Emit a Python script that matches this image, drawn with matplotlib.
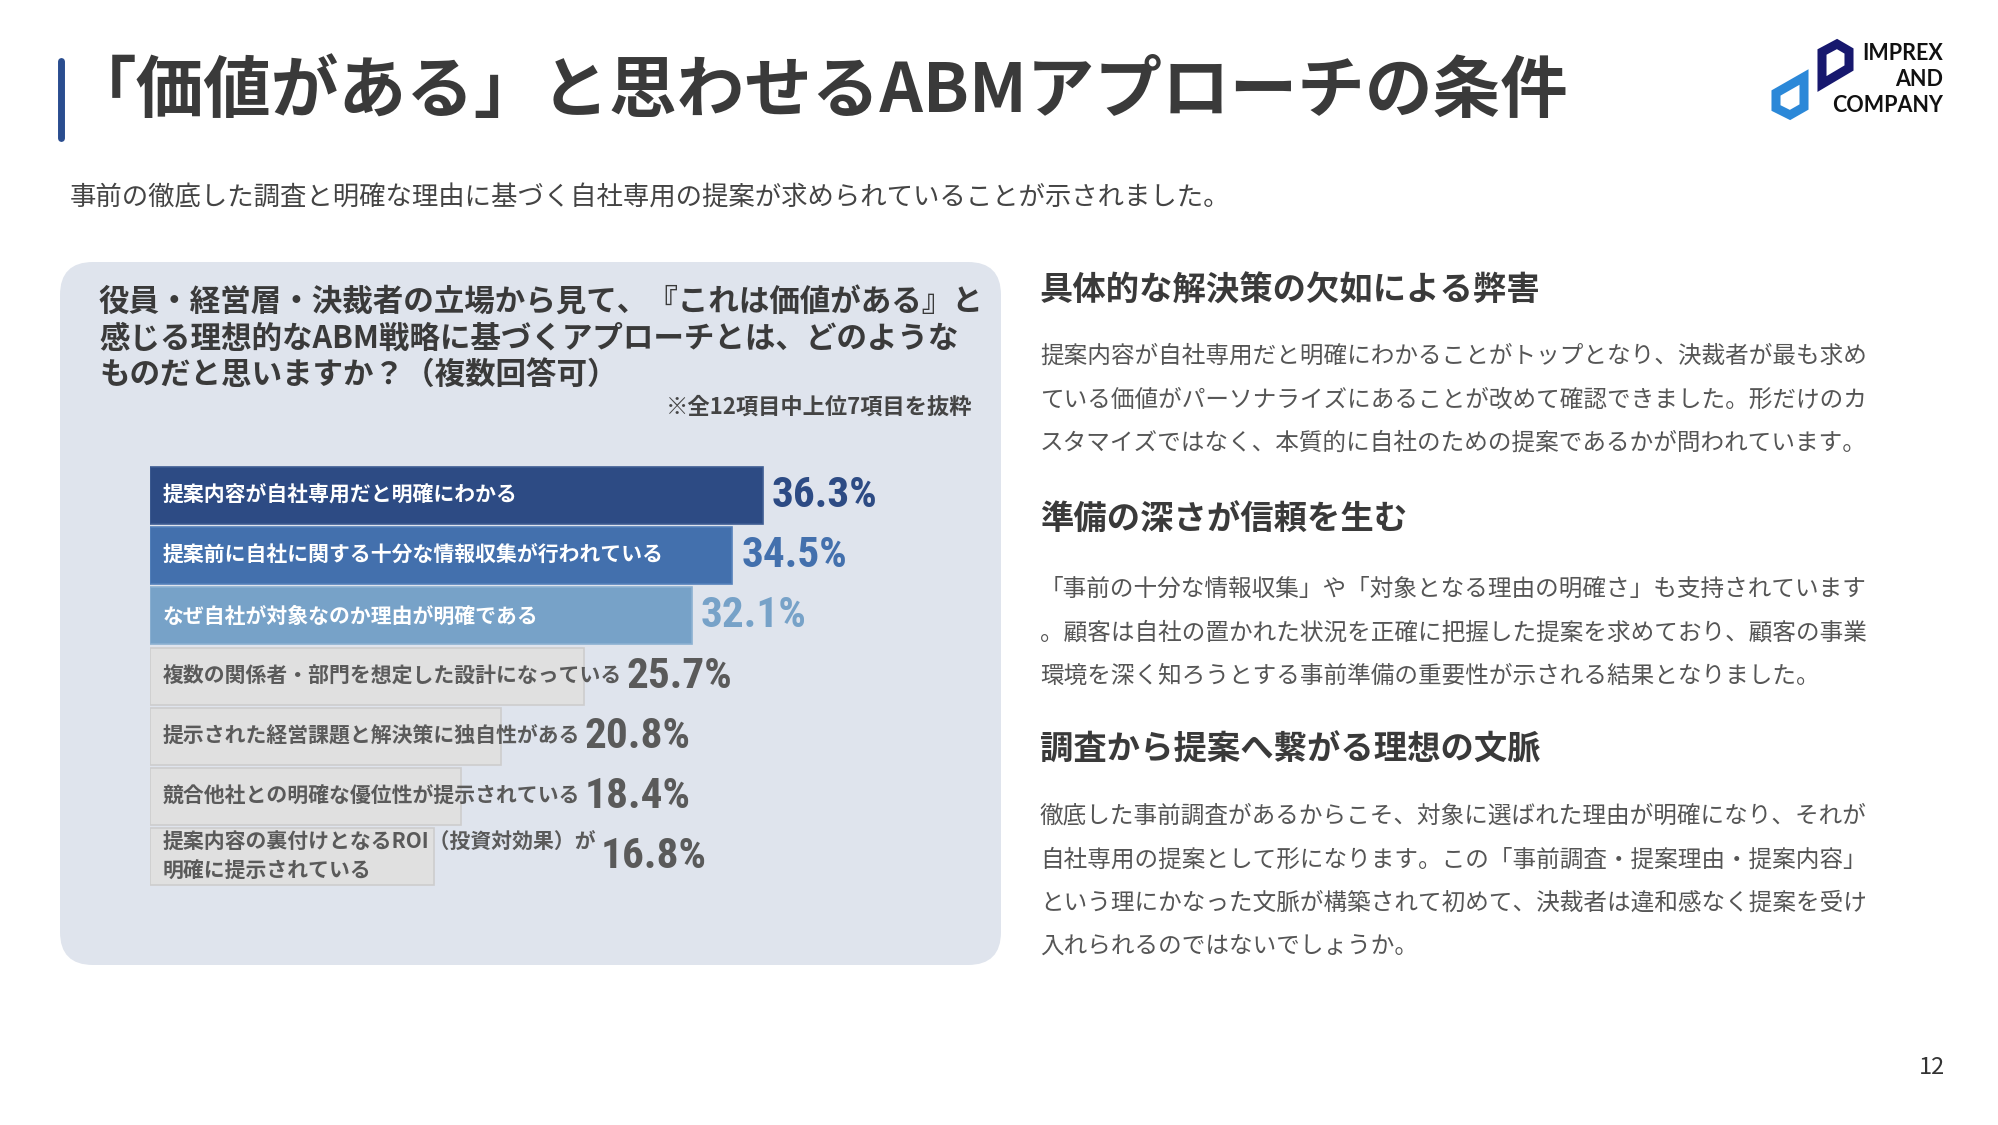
import matplotlib
matplotlib.use("Agg")
import matplotlib.pyplot as plt
from matplotlib import font_manager
from matplotlib.patches import FancyBboxPatch, Polygon

plt.rcParams['font.family'] = ['Noto Sans CJK JP', 'DejaVu Sans']

# --- data ---
title = "「価値がある」と思わせるABMアプローチの条件"
subtitle = "事前の徹底した調査と明確な理由に基づく自社専用の提案が求められていることが示されました。"
question = ["役員・経営層・決裁者の立場から見て、『これは価値がある』と",
            "感じる理想的なABM戦略に基づくアプローチとは、どのような",
            "ものだと思いますか？（複数回答可）"]
note = "※全12項目中上位7項目を抜粋"
labels = ["提案内容が自社専用だと明確にわかる",
          "提案前に自社に関する十分な情報収集が行われている",
          "なぜ自社が対象なのか理由が明確である",
          "複数の関係者・部門を想定した設計になっている",
          "提示された経営課題と解決策に独自性がある",
          "競合他社との明確な優位性が提示されている",
          "提案内容の裏付けとなるROI（投資対効果）が\n明確に提示されている"]
values = [36.3, 34.5, 32.1, 25.7, 20.8, 18.4, 16.8]

headings = ["具体的な解決策の欠如による弊害", "準備の深さが信頼を生む", "調査から提案へ繋がる理想の文脈"]
paragraphs = [
    ["提案内容が自社専用だと明確にわかることがトップとなり、決裁者が最も求め",
     "ている価値がパーソナライズにあることが改めて確認できました。形だけのカ",
     "スタマイズではなく、本質的に自社のための提案であるかが問われています。"],
    ["「事前の十分な情報収集」や「対象となる理由の明確さ」も支持されています",
     "。顧客は自社の置かれた状況を正確に把握した提案を求めており、顧客の事業",
     "環境を深く知ろうとする事前準備の重要性が示される結果となりました。"],
    ["徹底した事前調査があるからこそ、対象に選ばれた理由が明確になり、それが",
     "自社専用の提案として形になります。この「事前調査・提案理由・提案内容」",
     "という理にかなった文脈が構築されて初めて、決裁者は違和感なく提案を受け",
     "入れられるのではないでしょうか。"],
]
page_no = "12"

# --- styles ---
bar_colors = ['#2D4B84', '#4370AD', '#77A2C8', '#E0E0E0', '#E0E0E0', '#E0E0E0', '#E0E0E0']
edge_colors = ['#3E5C92', '#5581BB', '#8CB1D2', '#CDCDCD', '#CDCDCD', '#CDCDCD', '#CDCDCD']
label_colors = ['white', 'white', 'white', '#5A5A5A', '#5A5A5A', '#5A5A5A', '#5A5A5A']
value_colors = ['#2D4B84', '#4370AD', '#77A2C8', '#5A5A5A', '#5A5A5A', '#5A5A5A', '#5A5A5A']
dark = '#3A3A3A'
body = '#555555'

# pick a narrow face for the percentages if one is installed
narrow = None
prefs = ['Roboto Condensed', 'Liberation Sans Narrow', 'Open Sans Condensed', 'Noto Sans', 'DejaVu Sans', 'Roboto']
cands = [f for f in font_manager.fontManager.ttflist
         if f.stretch in ('condensed', 'semi-condensed', 'extra-condensed')
         or 'Narrow' in f.name or 'Condensed' in f.name]
for p in prefs:
    for f in cands:
        if f.name == p:
            narrow = f
            break
    if narrow:
        break
if narrow is None and cands:
    narrow = cands[0]
if narrow is not None:
    num_family, num_stretch = narrow.name, narrow.stretch
else:
    num_family, num_stretch = 'Roboto', 'normal'

W, H = 1999, 1125
fig = plt.figure(figsize=(W / 100, H / 100), dpi=100)
fig.patch.set_facecolor('white')

bg = fig.add_axes([0, 0, 1, 1])
bg.set_xlim(0, W)
bg.set_ylim(H, 0)
bg.axis('off')

# title
bg.plot([61, 61], [61, 138], color='#2A4D8F', lw=5, solid_capstyle='round')
bg.text(69, 92, title, fontsize=48.7, fontweight='bold', color=dark, va='center', ha='left')
bg.text(70, 198, subtitle, fontsize=19, color='#444444', va='center', ha='left')

# logo
bg.add_patch(Polygon([(1776, 93), (1804, 77), (1804, 107), (1790, 115), (1776, 108)],
                     closed=True, fill=False, edgecolor='#2B88D8', lw=6.5, joinstyle='miter'))
bg.add_patch(Polygon([(1822, 52), (1837, 44), (1849, 51), (1849, 68), (1822, 84)],
                     closed=True, fill=False, edgecolor='#17186E', lw=6.5, joinstyle='miter'))
for txt, yy in zip(["IMPREX", "AND", "COMPANY"], [54, 80, 106]):
    bg.text(1943, yy, txt, fontsize=15.5, fontweight='bold', family=['Lato', 'DejaVu Sans'],
            color='#111111', ha='right', va='center')

# panel
bg.add_patch(FancyBboxPatch((60 + 33, 262 + 33), 941 - 66, 703 - 66,
                            boxstyle="round,pad=33", facecolor='#DFE4ED', edgecolor='none'))
for line, yy in zip(question, [303, 339, 375]):
    bg.text(99, yy, line, fontsize=22, fontweight='bold', color=dark, va='center', ha='left')
bg.text(972, 407, note, fontsize=16, fontweight='bold', color='#444444', va='center', ha='right')

# right column
head_y = [291, 520, 750]
para_y = [[356, 400, 443], [589, 633, 676], [816, 860, 903, 946]]
for h, hy, para, py in zip(headings, head_y, paragraphs, para_y):
    bg.text(1040, hy, h, fontsize=24, fontweight='bold', color=dark, va='center', ha='left')
    for line, yy in zip(para, py):
        bg.text(1040, yy, line, fontsize=17, color=body, va='center', ha='left')

bg.text(1932, 1068, page_no, fontsize=17, color='#333333', ha='center', va='center')

# bar chart
px_per_unit = 16.88
row_h = 60.2
ax_left, ax_top = 150, 465.4
ax_w = 40 * px_per_unit
ax_h = 7 * row_h
ax = fig.add_axes([ax_left / W, 1 - (ax_top + ax_h) / H, ax_w / W, ax_h / H])
ax.set_xlim(0, 40)
ax.set_ylim(6.5, -0.5)
ax.axis('off')
ax.patch.set_alpha(0)

ypos = list(range(len(values)))
ax.barh(ypos, values, height=0.945, color=bar_colors, edgecolor=edge_colors, linewidth=1.2)

renderer = fig.canvas.get_renderer()

# size the percentage font so the first value is about as wide as in the slide
probe = ax.text(0, 0, f"{values[0]}%", fontsize=30, fontweight='bold',
                family=[num_family, 'DejaVu Sans'], stretch=num_stretch)
pw = probe.get_window_extent(renderer).width
probe.remove()
num_size = max(28, min(36, 30 * 106 / pw))

for i, (lab, v) in enumerate(zip(labels, values)):
    t = ax.annotate(lab, xy=(0, i), xytext=(9, 0), textcoords='offset points',
                    fontsize=15, fontweight='bold', color=label_colors[i],
                    va='center', ha='left', linespacing=1.45)
    text_end = t.get_window_extent(renderer).x1
    bar_end = ax.transData.transform((v, i))[0]
    x_disp = max(text_end + 5, bar_end + 9)
    x_data = ax.transData.inverted().transform((x_disp, 0))[0]
    ax.text(x_data, i, f"{v}%", fontsize=num_size, fontweight='bold',
            family=[num_family, 'DejaVu Sans'], stretch=num_stretch,
            color=value_colors[i], va='center', ha='left')

fig.savefig("out.png", dpi=100, facecolor='white')
